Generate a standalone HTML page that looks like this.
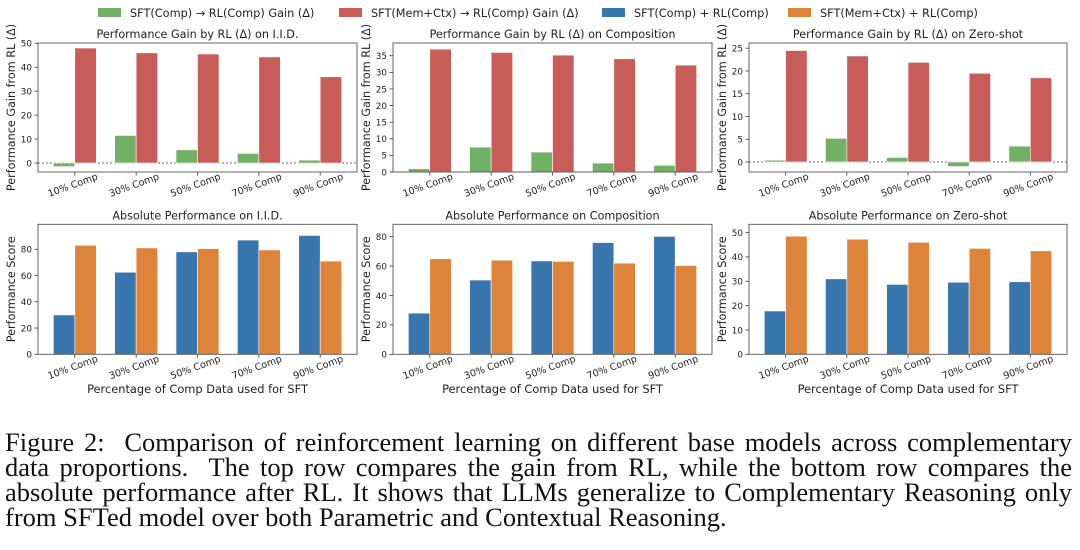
<!DOCTYPE html>
<html><head><meta charset="utf-8">
<style>
html,body{margin:0;padding:0;background:#fff;width:1080px;height:550px;overflow:hidden}
svg{position:absolute;left:0;top:0}
.cap{position:absolute;left:5px;width:1067px;font-family:"Liberation Serif",serif;font-size:26.5px;color:#111;white-space:nowrap}
.cap div{height:25px;line-height:25px;text-align:justify;text-align-last:justify}
.cap div.last{text-align-last:left}
</style></head><body>
<svg id="fig" width="1080" height="420" font-family="DejaVu Sans, Liberation Sans, sans-serif"></svg>
<div class="cap" style="top:430px">
<div>Figure 2:&nbsp; Comparison of reinforcement learning on different base models across complementary</div>
<div>data proportions.&nbsp; The top row compares the gain from RL, while the bottom row compares the</div>
<div>absolute performance after RL. It shows that LLMs generalize to Complementary Reasoning only</div>
<div class="last">from SFTed model over both Parametric and Contextual Reasoning.</div>
</div>
<script>
const categories = ["10% Comp","30% Comp","50% Comp","70% Comp","90% Comp"];
const gainIidComp = [-1.5, 11.5, 5.5, 4.0, 1.2];
const gainIidMem = [48, 46, 45.5, 44.3, 36];
const gainCompComp = [1.0, 7.5, 6.0, 2.7, 2.0];
const gainCompMem = [37, 36, 35.2, 34.1, 32.2];
const gainZeroComp = [0.4, 5.2, 1.0, -1.0, 3.5];
const gainZeroMem = [24.5, 23.3, 21.9, 19.5, 18.5];
const absIidComp = [30, 62.5, 78, 87, 90.5];
const absIidMem = [83, 81, 80.5, 79.5, 71];
const absCompComp = [28, 50.5, 63.5, 76, 80.2];
const absCompMem = [65, 64, 63.2, 62, 60.3];
const absZeroComp = [17.8, 31, 28.7, 29.6, 29.8];
const absZeroMem = [48.5, 47.3, 46, 43.5, 42.5];
const ticksIidGain = [0,10,20,30,40,50];
const ticksCompGain = [0,5,10,15,20,25,30,35];
const ticksZeroGain = [0,5,10,15,20,25];
const ticksIidAbs = [0,20,40,60,80];
const ticksCompAbs = [0,20,40,60,80];
const ticksZeroAbs = [0,10,20,30,40,50];

const NS="http://www.w3.org/2000/svg";
const svg=document.getElementById('fig');
function mk(tag,attrs,parent){const e=document.createElementNS(NS,tag);for(const k in attrs)e.setAttribute(k,attrs[k]);(parent||svg).appendChild(e);return e;}
const C={green:"#72b065",red:"#c85c59",blue:"#3a76ae",orange:"#de843a"};

function panel(o){
  const g=mk('g',{});
  
  
  const x0=o.x0,x1=o.x1,y0=o.y0,y1=o.y1;
  const xs=v=>x0+(v+0.6)/5.2*(x1-x0);
  const ys=v=>y1-(v-o.ymin)/(o.ymax-o.ymin)*(y1-y0);
  const t=mk('text',{x:(x0+x1)/2,y:y0-5,'text-anchor':'middle','font-size':11.2,fill:'#222'},g);
  t.textContent=o.title;
  
  
  if(o.zero){const l=mk('line',{x1:x0,x2:x1,y1:ys(0),y2:ys(0),stroke:'#666','stroke-width':1,'stroke-dasharray':'2,2'},g);
    
    }
  const w=0.35;
  categories.forEach((c,i)=>{
    [[o.a,C[o.ca],-w],[o.b,C[o.cb],0]].forEach(([arr,col,off],k)=>{
      const v=arr[i];const xa=xs(i+off),xb=xs(i+off+w);
      const ya=ys(Math.max(v,0)),yb=ys(Math.min(v,0));
      const r=mk('rect',{x:xa,y:ya,width:xb-xa,height:Math.max(0.5,yb-ya),fill:col,stroke:'#fff','stroke-width':0.6},g);
      
      
    });
    const tx=xs(i);
    mk('line',{x1:tx,x2:tx,y1:y1,y2:y1+3.5,stroke:'#333','stroke-width':0.8},g);
    const lb=mk('text',{x:0,y:0,'text-anchor':'middle','font-size':9.6,fill:'#222',transform:`translate(${tx-1},${y1+16}) rotate(-20)`},g);
    lb.textContent=c;
    
    
  });
  o.ticks.forEach(v=>{
    const ty=ys(v);
    mk('line',{x1:x0-3.5,x2:x0,y1:ty,y2:ty,stroke:'#333','stroke-width':0.8},g);
    const tl=mk('text',{x:x0-6,y:ty+3.3,'text-anchor':'end','font-size':8.8,fill:'#222'},g);
    tl.textContent=v;
    
    
  });
  mk('rect',{x:x0,y:y0,width:x1-x0,height:y1-y0,fill:'none',stroke:'#555','stroke-width':0.9},g);
  const yl=mk('text',{x:0,y:0,'text-anchor':'middle','font-size':11.2,fill:'#222',transform:`translate(${o.ylx},${(y0+y1)/2}) rotate(-90)`},g);
  yl.textContent=o.ylabel;
  
  
  if(o.xlabel){const xl=mk('text',{x:(x0+x1)/2,y:393,'text-anchor':'middle','font-size':11.4,fill:'#222'},g);
    xl.textContent=o.xlabel;
    
    }
}
const cols=[[38,357,15],[393,712,370],[749,1067,726]];
const gy=[43,172], ay=[224.3,354.3];
const GL="Performance Gain from RL (Δ)", AL="Performance Score", XL="Percentage of Comp Data used for SFT";
panel({name:'gain-iid-panel',x0:cols[0][0],x1:cols[0][1],ylx:cols[0][2],y0:gy[0],y1:gy[1],ymin:-3.75,ymax:50.1,a:gainIidComp,b:gainIidMem,ca:'green',cb:'red',ticks:ticksIidGain,title:"Performance Gain by RL (Δ) on I.I.D.",ylabel:GL,zero:true});
panel({name:'gain-composition-panel',x0:cols[1][0],x1:cols[1][1],ylx:cols[1][2],y0:gy[0],y1:gy[1],ymin:0,ymax:38.85,a:gainCompComp,b:gainCompMem,ca:'green',cb:'red',ticks:ticksCompGain,title:"Performance Gain by RL (Δ) on Composition",ylabel:GL,zero:true});
panel({name:'gain-zero-shot-panel',x0:cols[2][0],x1:cols[2][1],ylx:cols[2][2],y0:gy[0],y1:gy[1],ymin:-2.2,ymax:26.15,a:gainZeroComp,b:gainZeroMem,ca:'green',cb:'red',ticks:ticksZeroGain,title:"Performance Gain by RL (Δ) on Zero-shot",ylabel:GL,zero:true});
panel({name:'abs-iid-panel',x0:cols[0][0],x1:cols[0][1],ylx:cols[0][2],y0:ay[0],y1:ay[1],ymin:0,ymax:99,a:absIidComp,b:absIidMem,ca:'blue',cb:'orange',ticks:ticksIidAbs,title:"Absolute Performance on I.I.D.",ylabel:AL,xlabel:XL});
panel({name:'abs-composition-panel',x0:cols[1][0],x1:cols[1][1],ylx:cols[1][2],y0:ay[0],y1:ay[1],ymin:0,ymax:88.4,a:absCompComp,b:absCompMem,ca:'blue',cb:'orange',ticks:ticksCompAbs,title:"Absolute Performance on Composition",ylabel:AL,xlabel:XL});
panel({name:'abs-zero-shot-panel',x0:cols[2][0],x1:cols[2][1],ylx:cols[2][2],y0:ay[0],y1:ay[1],ymin:0,ymax:53.4,a:absZeroComp,b:absZeroMem,ca:'blue',cb:'orange',ticks:ticksZeroAbs,title:"Absolute Performance on Zero-shot",ylabel:AL,xlabel:XL});

const legendItems=[["SFT(Comp) → RL(Comp) Gain (Δ)",C.green,98],["SFT(Mem+Ctx) → RL(Comp) Gain (Δ)",C.red,339],["SFT(Comp) + RL(Comp)",C.blue,602],["SFT(Mem+Ctx) + RL(Comp)",C.orange,788]];
legendItems.forEach(([lab,col,x])=>{
  const g=mk('g',{});
  
  
  mk('rect',{x:x,y:8,width:23,height:9,fill:col},g);
  const t=mk('text',{x:x+32,y:17,'font-size':11.3,fill:'#222'},g);
  t.textContent=lab;
});
</script>
</body></html>
